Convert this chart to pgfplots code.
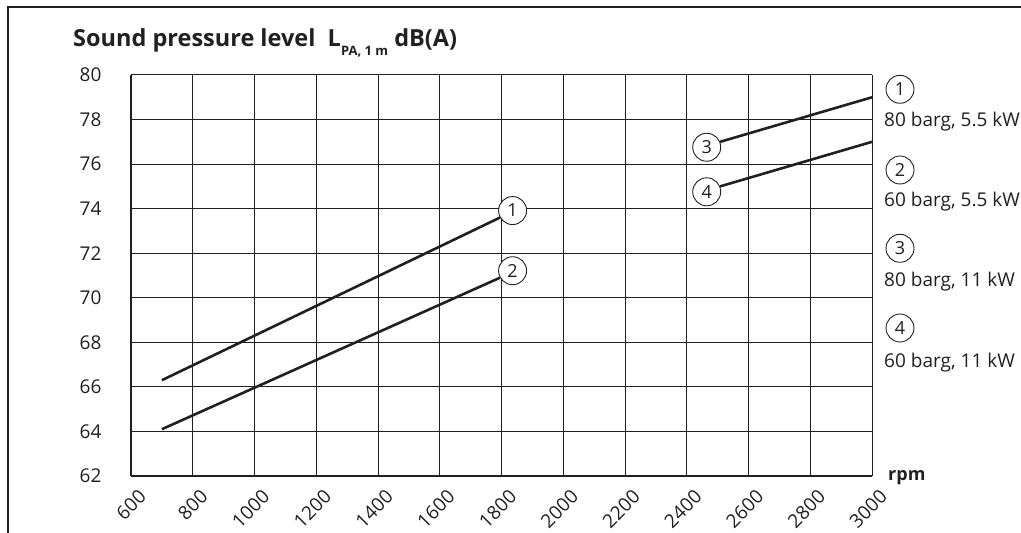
\documentclass[border=0pt]{standalone}
\usepackage{pgfplots}
\pgfplotsset{compat=1.18}
\usepackage{fontspec}
\setmainfont{Open Sans}
\definecolor{ink}{HTML}{231F20}

\tikzset{circ/.style={circle, draw=ink, fill=white, line width=0.9pt, minimum size=28pt, inner sep=0pt, text=ink, font=\fontsize{18}{18}\selectfont}}

\begin{document}
\begin{tikzpicture}[x=1pt,y=1pt]
\useasboundingbox (0,0) rectangle (1021,533);
\clip (0,0) rectangle (1021,533);
\draw[ink, line width=1.3pt] (8,0) -- (8,526) -- (1021,526);
\node[anchor=base west, inner sep=0pt, text=ink, font=\fontsize{23.5}{24}\selectfont\bfseries] at (73,486.5)
  {Sound pressure level\ \ L\raisebox{-9pt}{\fontsize{13}{13}\selectfont PA, 1 m} dB(A)};

\begin{axis}[
  at={(131pt,57pt)}, anchor=south west,
  scale only axis, width=741pt, height=401pt,
  xmin=600, xmax=3000, ymin=62, ymax=80,
  xtick={600,800,...,3000}, ytick={62,64,...,80},
  grid=major, major grid style={ink, line width=1pt},
  axis x line=bottom, axis y line=left,
  axis line style={-, line width=2.5pt, ink},
  major tick length=0pt,
  /pgf/number format/1000 sep={},
  /pgf/number format/assume math mode=true,
  tick label style={font=\fontsize{19}{20}\selectfont, text=ink},
  yticklabel style={anchor=east, xshift=-26pt},
  xticklabel style={xshift=14pt, yshift=-15pt, rotate=45, anchor=east},
  clip=false,
]
\addplot[ink, line width=2.6pt] coordinates {(700,66.3) (1795,73.6)} node[pos=1, circ, anchor=209] {1};
\addplot[ink, line width=2.6pt] coordinates {(700,64.1) (1795,70.9)} node[pos=1, circ, anchor=209] {2};
\addplot[ink, line width=2.6pt] coordinates {(2508,77.0) (3000,79.0)} node[pos=0, circ, anchor=22] {3};
\addplot[ink, line width=2.6pt] coordinates {(2508,75.0) (3000,77.0)} node[pos=0, circ, anchor=22] {4};
\end{axis}

\node[anchor=base west, inner sep=0pt, text=ink, font=\fontsize{18}{18}\selectfont\bfseries] at (888,52) {rpm};

\node[circ] at (900,443.7) {1};
\node[circ] at (900,363) {2};
\node[circ] at (900,284.7) {3};
\node[circ] at (900,205) {4};
\begin{scope}[every node/.style={anchor=west, inner sep=0pt, text=ink, font=\fontsize{19}{20}\selectfont}]
\node at (884,411.3) {80 barg, 5.5 kW};
\node at (884,331.3) {60 barg, 5.5 kW};
\node at (884,251.3) {80 barg, 11 kW};
\node at (884,170) {60 barg, 11 kW};
\end{scope}
\end{tikzpicture}
\end{document}
